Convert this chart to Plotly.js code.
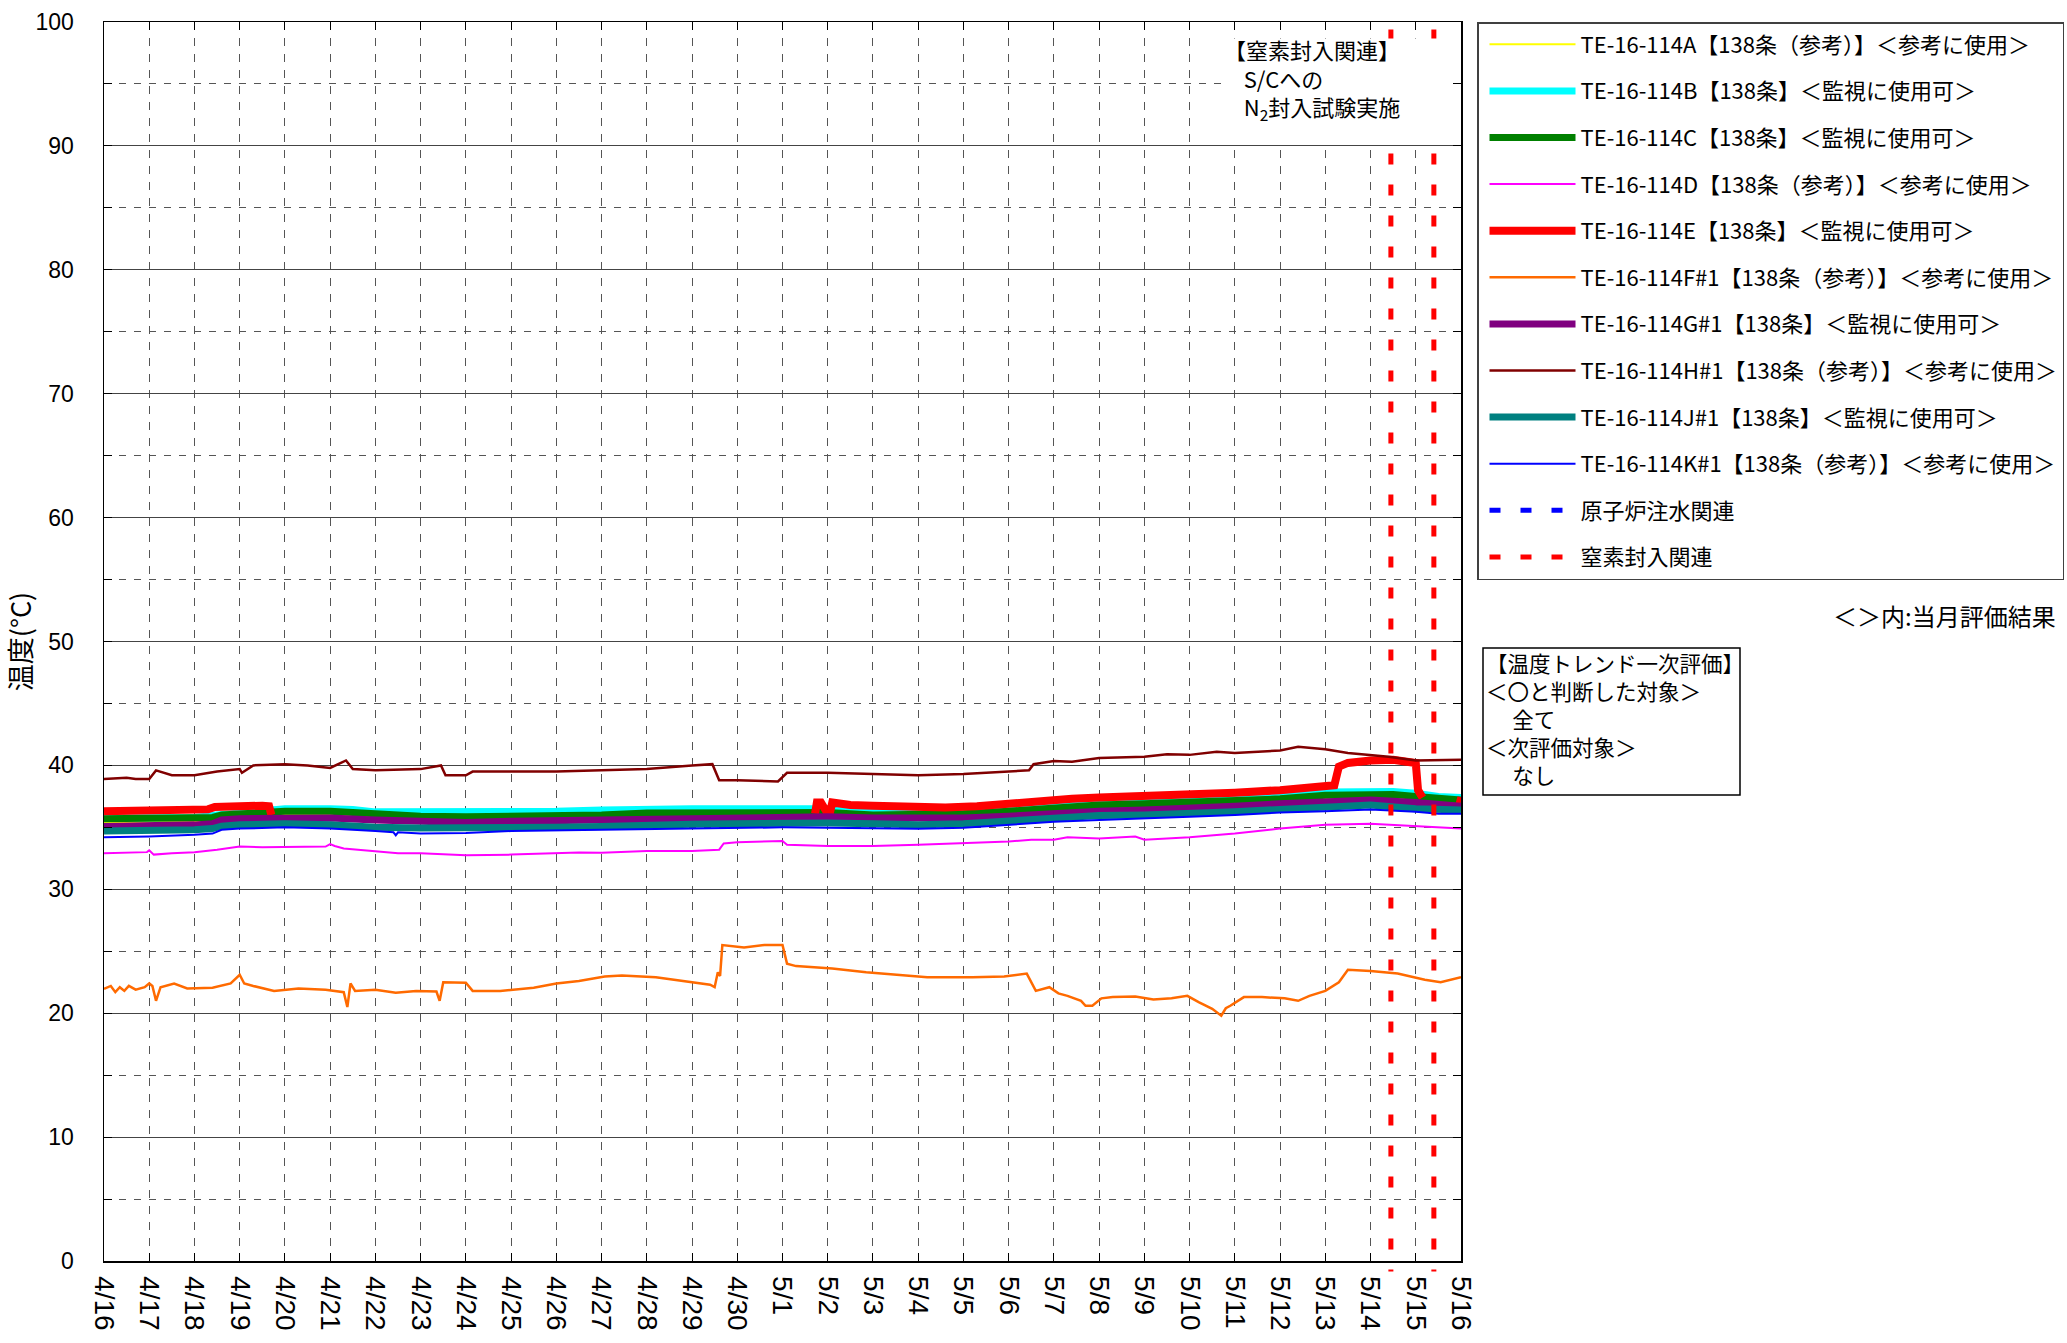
<!DOCTYPE html>
<html>
<head>
<meta charset="utf-8">
<script src="https://cdn.plot.ly/plotly-3.0.1.min.js"></script>
<style>html,body{margin:0;padding:0;background:#fff;}#chart{width:2067px;height:1343px;}</style>
</head>
<body>
<div id="chart"></div>
<script>
// ---- Data (day offset from 4/16 00:00, temperature °C) ----
const baseDate = [2013, 3, 16];
const tickLabels = ['4/16','4/17','4/18','4/19','4/20','4/21','4/22','4/23','4/24','4/25','4/26','4/27','4/28','4/29','4/30',
  '5/1','5/2','5/3','5/4','5/5','5/6','5/7','5/8','5/9','5/10','5/11','5/12','5/13','5/14','5/15','5/16'];

const seriesNames = [
  'TE-16-114A【138条（参考）】＜参考に使用＞',
  'TE-16-114B【138条】＜監視に使用可＞',
  'TE-16-114C【138条】＜監視に使用可＞',
  'TE-16-114D【138条（参考）】＜参考に使用＞',
  'TE-16-114E【138条】＜監視に使用可＞',
  'TE-16-114F#1【138条（参考）】＜参考に使用＞',
  'TE-16-114G#1【138条】＜監視に使用可＞',
  'TE-16-114H#1【138条（参考）】＜参考に使用＞',
  'TE-16-114J#1【138条】＜監視に使用可＞',
  'TE-16-114K#1【138条（参考）】＜参考に使用＞'
];
const eventNames = ['原子炉注水関連', '窒素封入関連'];

const dataA = [[0,35.4],[1,35.4],[2,35.5],[2.4,35.6],[2.6,35.85],[3,35.95],[4,36.0],[5,36.0],[6,35.8],[7,35.7],[8,35.6],[9,35.7],[10,35.7],[11,35.8],[12,35.9],[13,35.95],[14,36.0],[15,36.05],[16,36.0],[17,35.9],[18,35.85],[19,35.9],[20,36.1],[21,36.4],[22,36.55],[23,36.65],[24,36.75],[25,36.9],[26,37.1],[27,37.3],[28,37.45],[29,37.25],[29.5,37.05],[30,36.95]];
const dataB = [[0,35.75],[1,35.75],[2,35.8],[2.5,36.0],[3,36.15],[3.5,36.3],[3.7,36.45],[4,36.5],[5,36.5],[5.5,36.45],[6,36.25],[7,36.25],[8,36.25],[9,36.25],[10,36.3],[11,36.4],[12,36.5],[13,36.5],[14,36.5],[15,36.5],[16,36.5],[17,36.35],[18,36.35],[19,36.45],[20,36.65],[21,36.9],[22,37.1],[23,37.2],[24,37.3],[25,37.4],[26,37.6],[27,37.85],[28,37.95],[28.5,37.9],[29,37.75],[29.5,37.5],[30,37.4]];
const dataC = [[0,35.7],[1,35.7],[2,35.76],[2.4,35.8],[2.6,36.0],[3,36.1],[3.5,36.16],[4,36.3],[5,36.3],[5.5,36.2],[6,36.0],[7,35.9],[8,35.85],[9,35.9],[10,35.9],[11,36.0],[12,36.15],[13,36.15],[14,36.15],[15,36.15],[16,36.2],[17,36.0],[18,36.0],[19,36.1],[20,36.3],[21,36.6],[22,36.8],[23,36.9],[24,37.0],[25,37.1],[26,37.3],[27,37.6],[28,37.7],[28.5,37.65],[29,37.5],[29.5,37.3],[30,37.2]];
const dataD = [[0,32.9],[0.5,32.97],[0.95,33.0],[1.0,33.15],[1.1,32.8],[1.5,32.9],[2,33.0],[2.5,33.2],[3,33.45],[3.5,33.4],[4,33.4],[4.9,33.45],[5,33.65],[5.1,33.5],[5.3,33.3],[6,33.1],[6.5,32.9],[7,32.9],[7.5,32.8],[8,32.75],[9,32.8],[10,32.9],[10.5,32.97],[11,32.95],[12,33.1],[13,33.1],[13.6,33.2],[13.7,33.7],[14,33.8],[15,33.9],[15.1,33.6],[16,33.5],[17,33.5],[18,33.6],[19,33.7],[20,33.85],[20.5,34.0],[21,34.0],[21.3,34.2],[22,34.1],[22.8,34.26],[23,34.0],[24,34.2],[25,34.5],[26,34.9],[27,35.2],[28,35.3],[29,35.1],[30,34.9]];
const dataE = [[0,36.3],[0.5,36.35],[1,36.35],[1.5,36.4],[2,36.45],[2.3,36.45],[2.45,36.65],[3,36.75],[3.5,36.75],[3.65,36.7],[3.7,36.0],[3.71,null],
  [15.72,36.1],[15.76,37.0],[15.85,37.0],[15.95,36.5],[16.0,36.1],[16.05,36.2],[16.1,37.0],[16.3,36.9],[16.5,36.8],[17,36.75],[18,36.6],[18.6,36.6],[19.3,36.7],[20,36.95],[20.8,37.2],[21.4,37.3],[22,37.4],[23,37.5],[24,37.6],[25,37.8],[26,38.0],[27,38.2],[27.2,38.4],[27.3,39.9],[27.5,40.2],[28,40.4],[28.5,40.45],[28.8,40.3],[29,40.2],[29.05,38.0],[29.15,37.4],[29.16,null],
  [29.9,37.2],[30,37.1]];
const dataF = [[0,21.97],[0.15,22.2],[0.25,21.7],[0.35,22.1],[0.45,21.8],[0.55,22.2],[0.7,21.9],[0.9,22.1],[1.0,22.4],[1.07,22.2],[1.15,21.0],[1.25,22.1],[1.55,22.4],[1.84,22.0],[2.4,22.05],[2.8,22.4],[3.0,23.1],[3.1,22.4],[3.3,22.2],[3.76,21.8],[4.3,22.0],[4.9,21.9],[5.3,21.7],[5.38,20.5],[5.45,22.4],[5.55,21.8],[6.0,21.9],[6.45,21.65],[6.9,21.8],[7.35,21.75],[7.42,21.0],[7.5,22.5],[8.0,22.46],[8.15,21.8],[8.76,21.8],[9.5,22.05],[10,22.4],[10.5,22.6],[11.07,22.97],[11.45,23.05],[12.2,22.9],[13,22.5],[13.4,22.3],[13.5,22.1],[13.57,23.3],[13.62,23.0],[13.67,25.5],[14.15,25.3],[14.6,25.5],[15.0,25.5],[15.1,24.0],[15.3,23.8],[16.1,23.6],[16.85,23.3],[17.6,23.1],[18.2,22.9],[19.2,22.9],[19.9,22.97],[20.4,23.2],[20.6,21.8],[20.9,22.1],[21.1,21.6],[21.3,21.4],[21.6,21.0],[21.7,20.6],[21.85,20.6],[22.05,21.2],[22.3,21.3],[22.8,21.35],[23.2,21.1],[23.6,21.2],[23.95,21.4],[24.2,20.9],[24.5,20.35],[24.7,19.8],[24.8,20.4],[24.9,20.6],[25.2,21.3],[25.6,21.3],[26.1,21.2],[26.4,21.0],[26.65,21.4],[27.0,21.8],[27.3,22.5],[27.5,23.5],[28.0,23.4],[28.6,23.2],[29.0,22.9],[29.2,22.7],[29.55,22.5],[29.9,22.8],[30,22.9]];
const dataG = [[0,35.07],[1,35.07],[2,35.2],[2.4,35.3],[2.6,35.6],[3,35.7],[4,35.75],[5,35.75],[6,35.6],[7,35.5],[8,35.4],[9,35.5],[10,35.55],[11,35.6],[12,35.65],[13,35.75],[14,35.85],[15,35.9],[16,35.85],[17,35.75],[18,35.7],[19,35.75],[20,35.9],[21,36.15],[22,36.3],[23,36.4],[24,36.5],[25,36.7],[26,36.9],[27,37.0],[28,37.2],[29,37.0],[29.5,36.8],[30,36.7]];
const dataH = [[0,38.9],[0.5,39.0],[0.7,38.9],[1,38.9],[1.15,39.6],[1.5,39.2],[2,39.2],[2.5,39.5],[3,39.7],[3.05,39.4],[3.3,40.0],[4,40.1],[4.5,40.0],[5,39.8],[5.35,40.4],[5.5,39.7],[6,39.6],[7,39.7],[7.45,40.0],[7.55,39.2],[8,39.2],[8.15,39.5],[9,39.5],[10,39.5],[11,39.6],[12,39.7],[13,40.0],[13.45,40.1],[13.6,38.8],[14,38.8],[14.9,38.7],[15.1,39.4],[16,39.4],[17,39.3],[18,39.2],[19,39.3],[20,39.5],[20.45,39.6],[20.55,40.1],[21,40.35],[21.4,40.3],[22,40.6],[23,40.7],[23.5,40.9],[24,40.85],[24.6,41.1],[25,41.0],[26,41.2],[26.4,41.5],[27,41.3],[27.5,41.0],[28,40.85],[28.4,40.7],[29,40.4],[29.6,40.45],[30,40.45]];
const dataJ = [[0,34.7],[1,34.7],[2,34.8],[2.4,34.9],[2.6,35.1],[3,35.2],[4,35.3],[5,35.2],[6,35.0],[7,34.95],[8,34.93],[9,34.95],[10,35.0],[11,35.07],[12,35.2],[13,35.25],[14,35.3],[15,35.35],[16,35.35],[17,35.3],[18,35.2],[19,35.3],[20,35.5],[21,35.75],[22,35.95],[23,36.0],[24,36.1],[25,36.25],[26,36.45],[27,36.6],[28,36.8],[29,36.5],[29.5,36.4],[30,36.4]];
const dataK = [[0,34.2],[1,34.26],[2,34.4],[2.4,34.5],[2.6,34.8],[3,34.9],[4,35.0],[5,34.9],[6,34.7],[6.4,34.6],[6.45,34.35],[6.5,34.6],[7,34.5],[8,34.55],[9,34.7],[10,34.75],[11,34.8],[12,34.9],[13,34.95],[14,35.0],[15,35.0],[16,34.97],[17,34.9],[18,34.88],[19,34.97],[20,35.2],[21,35.45],[22,35.6],[23,35.7],[24,35.85],[25,36.0],[26,36.2],[27,36.3],[28,36.45],[29,36.25],[29.5,36.1],[30,36.1]];

// 窒素封入関連 event times (day offset)
const n2Events = [28.45, 29.4];

// ---- helpers ----
function toDate(d) {
  const ms = Date.UTC(baseDate[0], baseDate[1], baseDate[2]) + Math.round(d * 86400000);
  return new Date(ms).toISOString().slice(0, 19).replace('T', ' ');
}
function labelToDate(lbl) {
  const [m, d] = lbl.split('/').map(Number);
  return baseDate[0] + '-' + String(m).padStart(2, '0') + '-' + String(d).padStart(2, '0');
}

const allData = [dataA, dataB, dataC, dataD, dataE, dataF, dataG, dataH, dataJ, dataK];
const colors = ['#FFFF00', '#00FFFF', '#008000', '#FF00FF', '#FF0000', '#FF6A00', '#800080', '#800000', '#008080', '#0000FF'];
const widths = [2, 7, 7, 2, 8, 2.5, 7, 2.5, 7, 2];

const traces = allData.map((arr, i) => ({
  type: 'scatter', mode: 'lines',
  name: seriesNames[i], legendgroup: 'g' + i,
  x: arr.map(p => toDate(p[0])), y: arr.map(p => p[1]),
  connectgaps: false,
  line: { color: colors[i], width: widths[i] },
  hoverinfo: 'skip'
}));
traces.push({ type: 'scatter', mode: 'lines', name: eventNames[0], legendgroup: 'e0',
  x: [null], y: [null], line: { color: '#0000FF', width: 5, dash: '11px,20px' } });
traces.push({ type: 'scatter', mode: 'lines', name: eventNames[1], legendgroup: 'e1',
  x: [null], y: [null], line: { color: '#FF0000', width: 5, dash: '11px,20px' } });

// plot area geometry (px) for paper-referenced decorations
const L = 104, R = 1461, T = 21.5, B = 1261.5;
const px = x => (x - L) / (R - L);
const py = y => (B - y) / (B - T);

const shapes = n2Events.map(d => ({
  type: 'line', xref: 'x', yref: 'paper', layer: 'above',
  x0: toDate(d), x1: toDate(d), y0: py(29), y1: py(1272),
  line: { color: '#FF0000', width: 5, dash: '11px,20px' }
}));
shapes.push({ type: 'rect', xref: 'paper', yref: 'paper', layer: 'above',
  x0: px(1226), x1: px(1453), y0: py(143), y1: py(38),
  fillcolor: '#FFFFFF', line: { width: 0 } });
shapes.push({ type: 'rect', xref: 'paper', yref: 'paper', layer: 'above',
  x0: px(1483), x1: px(1740), y0: py(795), y1: py(648),
  fillcolor: 'rgba(0,0,0,0)', line: { color: '#000', width: 1.5 } });

const jp = 'Noto Sans CJK JP, sans-serif';
const NB = '\u00a0';
const ann = (text, x, y, xanchor, size) => ({
  text: text, xref: 'paper', yref: 'paper', x: px(x), y: py(y),
  xanchor: xanchor, yanchor: 'middle', showarrow: false, align: 'left',
  font: { family: jp, size: size, color: '#000' }
});
const annotations = [
  ann('【窒素封入関連】<br>' + NB.repeat(4) + 'S/Cへの<br>' + NB.repeat(4) + 'N<sub>2</sub>封入試験実施', 1222, 79, 'left', 22),
  ann('＜＞内:当月評価結果', 2058, 615, 'right', 24),
  ann('【温度トレンド一次評価】<br>＜〇と判断した対象＞<br>　' + NB + '全て<br>＜次評価対象＞<br>　' + NB + 'なし', 1484, 719, 'left', 21.5)
];

const layout = {
  width: 2067, height: 1343,
  margin: { l: L, r: 2067 - R, t: T, b: 1343 - B, autoexpand: false },
  paper_bgcolor: '#fff', plot_bgcolor: '#fff',
  font: { family: jp, size: 22, color: '#000' },
  showlegend: true,
  legend: {
    x: px(1477), xanchor: 'left', y: 1.0, yanchor: 'top',
    bgcolor: '#fff', bordercolor: '#404040', borderwidth: 1.5,
    font: { family: jp, size: 22, color: '#000' },
    itemwidth: 86, indentation: 6, traceorder: 'grouped', tracegroupgap: 15,
    itemclick: false, itemdoubleclick: false
  },
  xaxis: {
    type: 'date', range: [toDate(0), toDate(30)],
    tickmode: 'array', tickvals: tickLabels.map(labelToDate), ticktext: tickLabels,
    tickangle: 90, tickfont: { family: 'Liberation Sans, Arial, sans-serif', size: 28 },
    ticks: 'inside', ticklen: 8, tickcolor: '#000', tickwidth: 1,
    showline: true, linecolor: '#000', linewidth: 1.5, mirror: 'allticks',
    showgrid: true, gridcolor: '#555', gridwidth: 1, griddash: '8px,8px',
    zeroline: false, ticklabelstandoff: 8, fixedrange: true
  },
  yaxis: {
    range: [0, 100], tickmode: 'linear', tick0: 0, dtick: 10,
    tickfont: { family: 'Liberation Sans Narrow, Liberation Sans, Arial, sans-serif', size: 23 },
    ticks: 'inside', ticklen: 8, tickcolor: '#000',
    showline: true, linecolor: '#000', linewidth: 1.5, mirror: 'allticks',
    showgrid: true, gridcolor: '#444', gridwidth: 1,
    minor: { dtick: 5, showgrid: true, gridcolor: '#555', griddash: '7px,8px', ticks: 'inside', ticklen: 8, tickcolor: '#000' },
    zeroline: false, ticklabelstandoff: 24, fixedrange: true,
    title: { text: '温度(°C)', font: { family: jp, size: 27 }, standoff: 6 }
  },
  shapes: shapes,
  annotations: annotations
};

Plotly.newPlot('chart', traces, layout, { displayModeBar: false, staticPlot: true });
</script>
</body>
</html>
